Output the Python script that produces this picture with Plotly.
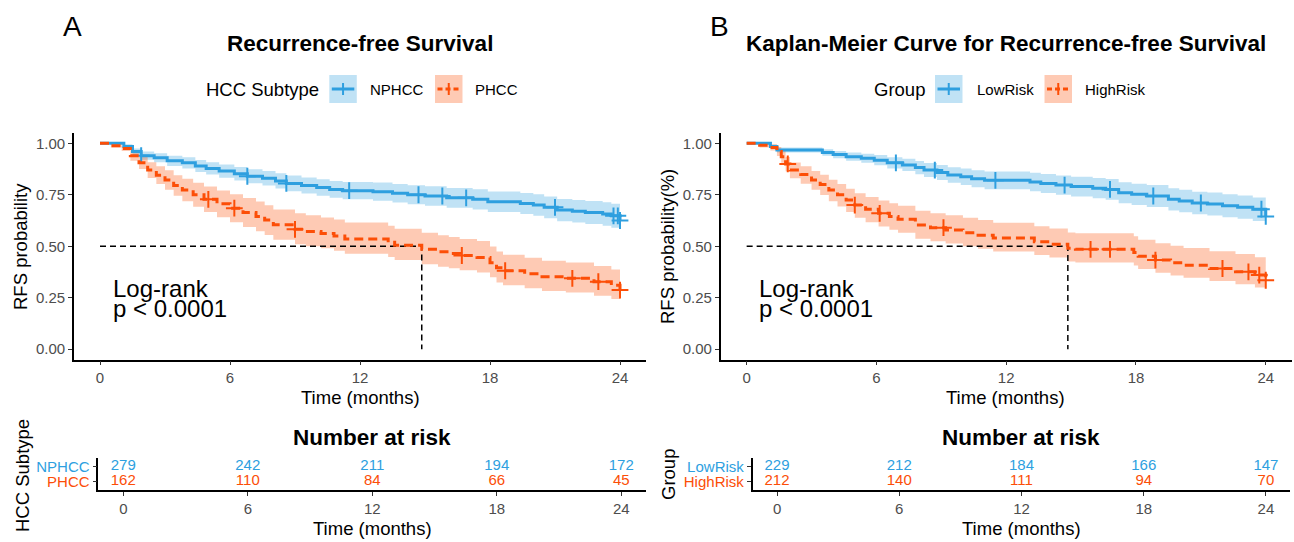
import plotly.graph_objects as go

W, H = 1294, 542
BLUE = "#2E9FDF"
ORANGE = "#FC4E07"
BLUE_FILL = "rgba(46,159,223,0.3)"
ORANGE_FILL = "rgba(252,78,7,0.3)"
FONT = "Liberation Sans, Arial, sans-serif"

# ---------------- Panel A data ----------------
a_blue_t = [0, 1.1, 1.5, 1.9, 2.5, 3.1, 3.8, 4.4, 4.9, 5.5, 6.2, 6.8, 7.5, 8.1, 8.6, 9.3, 10.0, 10.6, 11.2,
            12.6, 13.5, 14.2, 15.0, 16.0, 17.2, 17.9, 19.4, 20.0, 20.5, 21.1, 21.8, 22.4, 23.2, 23.6, 24.0]
a_blue_s = [1.0, 0.985, 0.96, 0.94, 0.93, 0.915, 0.905, 0.89, 0.878, 0.865, 0.852, 0.84, 0.83, 0.817, 0.805,
            0.795, 0.785, 0.776, 0.77, 0.765, 0.757, 0.75, 0.744, 0.735, 0.728, 0.716, 0.708, 0.70, 0.689,
            0.676, 0.67, 0.664, 0.657, 0.648, 0.625]
a_blue_lo = [1.0, 0.975, 0.945, 0.92, 0.908, 0.89, 0.878, 0.861, 0.848, 0.833, 0.819, 0.806, 0.795, 0.78,
             0.767, 0.756, 0.745, 0.735, 0.728, 0.721, 0.712, 0.704, 0.697, 0.687, 0.679, 0.666, 0.657, 0.648,
             0.636, 0.622, 0.615, 0.608, 0.600, 0.590, 0.570]
a_blue_up = [1.0, 0.995, 0.975, 0.96, 0.952, 0.94, 0.932, 0.919, 0.908, 0.897, 0.885, 0.874, 0.865, 0.854,
             0.843, 0.834, 0.825, 0.817, 0.812, 0.809, 0.802, 0.796, 0.791, 0.783, 0.777, 0.766, 0.759, 0.752,
             0.742, 0.730, 0.725, 0.72, 0.714, 0.706, 0.683]
a_blue_cens = [1.9, 6.8, 8.6, 11.5, 14.7, 15.8, 16.9, 21.0, 23.7, 23.9, 24.0]

a_orng_t = [0, 0.5, 1.0, 1.4, 1.8, 2.2, 2.6, 3.0, 3.4, 3.8, 4.3, 4.8, 5.4, 6.0, 6.6, 7.2, 7.6, 8.0, 9.0, 9.5,
            10.2, 10.8, 11.3, 13.3, 13.6, 14.85, 15.6, 16.1, 16.6, 17.4, 18.0, 18.3, 18.6, 19.6, 20.4, 21.5,
            22.8, 23.6, 24.0]
a_orng_s = [1.0, 0.988, 0.975, 0.94, 0.905, 0.87, 0.845, 0.822, 0.795, 0.773, 0.75, 0.728, 0.706, 0.685,
            0.664, 0.645, 0.627, 0.605, 0.582, 0.572, 0.562, 0.55, 0.535, 0.52, 0.505, 0.485, 0.473, 0.465,
            0.455, 0.445, 0.42, 0.395, 0.381, 0.366, 0.352, 0.344, 0.328, 0.311, 0.287]
a_orng_lo = [1.0, 0.98, 0.962, 0.915, 0.875, 0.832, 0.802, 0.775, 0.745, 0.718, 0.692, 0.666, 0.641, 0.617,
             0.594, 0.573, 0.555, 0.532, 0.51, 0.50, 0.49, 0.478, 0.463, 0.448, 0.433, 0.413, 0.401, 0.393,
             0.383, 0.373, 0.349, 0.324, 0.311, 0.296, 0.283, 0.275, 0.26, 0.244, 0.22]
a_orng_up = [1.0, 0.996, 0.988, 0.965, 0.935, 0.908, 0.888, 0.869, 0.845, 0.828, 0.808, 0.79, 0.771, 0.753,
             0.734, 0.717, 0.699, 0.678, 0.66, 0.65, 0.64, 0.63, 0.615, 0.60, 0.585, 0.565, 0.553, 0.545,
             0.535, 0.525, 0.499, 0.474, 0.459, 0.444, 0.429, 0.421, 0.404, 0.387, 0.36]
a_orng_cens = [5.0, 6.2, 9.0, 16.7, 18.7, 21.8, 23.0, 24.0]
a_median = 14.85

a_groups = ["NPHCC", "PHCC"]
risk_times = [0, 6, 12, 18, 24]
a_risk_blue = [279, 242, 211, 194, 172]
a_risk_orng = [162, 110, 84, 66, 45]

# ---------------- Panel B data ----------------
b_blue_t = [0, 1.1, 1.4, 3.5, 4.0, 4.6, 5.3, 5.9, 6.5, 7.2, 7.8, 8.2, 8.8, 9.3, 9.9, 10.4, 11.0, 13.1, 13.6,
            14.3, 15.0, 16.0, 16.6, 17.2, 17.8, 18.5, 19.5, 20.0, 20.6, 21.3, 22.0, 22.7, 23.4, 24.0]
b_blue_s = [1.0, 0.985, 0.967, 0.955, 0.945, 0.935, 0.927, 0.918, 0.905, 0.895, 0.882, 0.87, 0.858, 0.846,
            0.838, 0.828, 0.82, 0.812, 0.805, 0.797, 0.79, 0.782, 0.776, 0.76, 0.752, 0.744, 0.728, 0.72,
            0.71, 0.705, 0.697, 0.69, 0.68, 0.645]
b_blue_lo = [1.0, 0.977, 0.955, 0.939, 0.927, 0.915, 0.905, 0.893, 0.878, 0.865, 0.85, 0.836, 0.822, 0.808,
             0.798, 0.787, 0.777, 0.767, 0.759, 0.75, 0.742, 0.733, 0.726, 0.709, 0.70, 0.691, 0.674, 0.665,
             0.655, 0.649, 0.641, 0.633, 0.623, 0.587]
b_blue_up = [1.0, 0.993, 0.979, 0.971, 0.963, 0.955, 0.949, 0.943, 0.932, 0.925, 0.914, 0.904, 0.894, 0.884,
             0.878, 0.869, 0.863, 0.857, 0.851, 0.844, 0.838, 0.831, 0.826, 0.811, 0.804, 0.797, 0.782, 0.775,
             0.765, 0.761, 0.753, 0.747, 0.737, 0.703]
b_blue_cens = [6.9, 8.7, 11.5, 14.7, 16.8, 18.8, 21.0, 23.8, 24.0]

b_orng_t = [0, 0.6, 1.1, 1.4, 1.6, 1.8, 2.0, 2.5, 3.0, 3.4, 3.8, 4.2, 4.6, 5.0, 5.5, 6.1, 6.6, 7.0, 7.8, 8.5,
            9.2, 10.0, 10.7, 11.4, 13.3, 14.0, 14.85, 15.2, 17.9, 18.1, 18.9, 19.6, 20.2, 21.4, 22.6, 23.5, 24.0]
b_orng_s = [1.0, 0.99, 0.98, 0.96, 0.935, 0.9, 0.87, 0.848, 0.822, 0.8, 0.773, 0.75, 0.725, 0.7, 0.68, 0.66,
            0.645, 0.631, 0.603, 0.59, 0.579, 0.566, 0.554, 0.54, 0.522, 0.51, 0.49, 0.485, 0.47, 0.452,
            0.433, 0.42, 0.408, 0.392, 0.376, 0.36, 0.335]
b_orng_lo = [1.0, 0.98, 0.965, 0.938, 0.905, 0.864, 0.83, 0.804, 0.774, 0.749, 0.719, 0.693, 0.666, 0.639,
             0.617, 0.596, 0.58, 0.565, 0.537, 0.524, 0.513, 0.50, 0.488, 0.474, 0.457, 0.445, 0.426, 0.421,
             0.406, 0.389, 0.371, 0.358, 0.347, 0.331, 0.316, 0.30, 0.277]
b_orng_up = [1.0, 1.0, 0.995, 0.982, 0.962, 0.933, 0.907, 0.889, 0.866, 0.847, 0.823, 0.802, 0.779, 0.757,
             0.739, 0.722, 0.709, 0.697, 0.672, 0.66, 0.65, 0.638, 0.627, 0.614, 0.597, 0.586, 0.567, 0.563,
             0.548, 0.531, 0.514, 0.502, 0.491, 0.476, 0.462, 0.447, 0.423]
b_orng_cens = [1.9, 5.0, 6.15, 9.1, 15.9, 16.8, 18.9, 22.0, 23.2, 23.7, 24.0]
b_median = 14.85

b_groups = ["LowRisk", "HighRisk"]
b_risk_blue = [229, 212, 184, 166, 147]
b_risk_orng = [212, 140, 111, 94, 70]

y_ticks = [0, 0.25, 0.5, 0.75, 1.0]
y_ticklabels = ["0.00", "0.25", "0.50", "0.75", "1.00"]


def px(x):
    return x / W


def py(y):
    return 1 - y / H


def step_at(ts, ss, t):
    v = ss[0]
    for ti, si in zip(ts, ss):
        if ti <= t + 1e-9:
            v = si
        else:
            break
    return v


fig = go.Figure()


def add_curve(xa, ya, t, s, lo, up, cens, color, fill, dash):
    fig.add_trace(go.Scatter(x=t, y=lo, mode="lines", line=dict(width=0, shape="hv", color=fill),
                             xaxis=xa, yaxis=ya, hoverinfo="skip", showlegend=False))
    fig.add_trace(go.Scatter(x=t, y=up, mode="lines", line=dict(width=0, shape="hv", color=fill),
                             fill="tonexty", fillcolor=fill,
                             xaxis=xa, yaxis=ya, hoverinfo="skip", showlegend=False))


def add_line(xa, ya, t, s, cens, color, dash):
    fig.add_trace(go.Scatter(x=t, y=s, mode="lines",
                             line=dict(width=3, shape="hv", color=color, dash=dash),
                             xaxis=xa, yaxis=ya, hoverinfo="skip", showlegend=False))
    fig.add_trace(go.Scatter(x=cens, y=[step_at(t, s, c) for c in cens], mode="markers",
                             marker=dict(symbol="cross-thin", size=12, line=dict(color=color, width=2)),
                             xaxis=xa, yaxis=ya, hoverinfo="skip", showlegend=False))


def add_median(xa, ya, med):
    fig.add_trace(go.Scatter(x=[0, med, med], y=[0.5, 0.5, 0], mode="lines",
                             line=dict(color="black", width=1.5, dash="6px,4px"),
                             xaxis=xa, yaxis=ya, hoverinfo="skip", showlegend=False))


def add_risk(xa, ya, blue_vals, orng_vals):
    fig.add_trace(go.Scatter(x=risk_times, y=[2] * len(risk_times), mode="text",
                             text=[str(v) for v in blue_vals],
                             textfont=dict(color=BLUE, size=15, family=FONT),
                             xaxis=xa, yaxis=ya, hoverinfo="skip", showlegend=False))
    fig.add_trace(go.Scatter(x=risk_times, y=[1] * len(risk_times), mode="text",
                             text=[str(v) for v in orng_vals],
                             textfont=dict(color=ORANGE, size=15, family=FONT),
                             xaxis=xa, yaxis=ya, hoverinfo="skip", showlegend=False))


# Panel A
add_curve("x", "y", a_blue_t, a_blue_s, a_blue_lo, a_blue_up, a_blue_cens, BLUE, BLUE_FILL, "solid")
add_curve("x", "y", a_orng_t, a_orng_s, a_orng_lo, a_orng_up, a_orng_cens, ORANGE, ORANGE_FILL, "9px,5px")
add_median("x", "y", a_median)
add_line("x", "y", a_blue_t, a_blue_s, a_blue_cens, BLUE, "solid")
add_line("x", "y", a_orng_t, a_orng_s, a_orng_cens, ORANGE, "9px,5px")
add_risk("x2", "y2", a_risk_blue, a_risk_orng)

# Panel B
add_curve("x3", "y3", b_blue_t, b_blue_s, b_blue_lo, b_blue_up, b_blue_cens, BLUE, BLUE_FILL, "solid")
add_curve("x3", "y3", b_orng_t, b_orng_s, b_orng_lo, b_orng_up, b_orng_cens, ORANGE, ORANGE_FILL, "9px,5px")
add_median("x3", "y3", b_median)
add_line("x3", "y3", b_blue_t, b_blue_s, b_blue_cens, BLUE, "solid")
add_line("x3", "y3", b_orng_t, b_orng_s, b_orng_cens, ORANGE, "9px,5px")
add_risk("x4", "y4", b_risk_blue, b_risk_orng)

axis_common = dict(showline=True, linecolor="black", linewidth=1.6, ticks="outside", ticklen=4,
                   tickcolor="#333333", tickwidth=1.2, showgrid=False, zeroline=False,
                   tickfont=dict(size=15, color="#4D4D4D", family=FONT), fixedrange=True)

main_ydom = [py(359.5), py(133)]
risk_ydom = [py(490), py(458)]


def xaxis(domain, anchor):
    return dict(axis_common, domain=domain, range=[-1.2, 25.2], tickvals=risk_times, anchor=anchor)


def risk_ticktext(groups):
    return ["<span style='color:%s'>%s</span>" % (ORANGE, groups[1]),
            "<span style='color:%s'>%s</span>" % (BLUE, groups[0])]


fig.update_layout(
    width=W, height=H, margin=dict(l=0, r=0, t=0, b=0),
    paper_bgcolor="white", plot_bgcolor="white", showlegend=False,
    font=dict(family=FONT, color="black"),
    xaxis=xaxis([px(74), px(646)], "y"),
    yaxis=dict(axis_common, domain=main_ydom, range=[-0.05, 1.05], tickvals=y_ticks,
               ticktext=y_ticklabels, anchor="x"),
    xaxis2=xaxis([px(98.4), px(646.2)], "y2"),
    yaxis2=dict(axis_common, domain=risk_ydom, range=[0.45, 2.55], tickvals=[1, 2],
                ticktext=risk_ticktext(a_groups), anchor="x2",
                tickfont=dict(size=15, family=FONT)),
    xaxis3=xaxis([px(720.7), px(1291.7)], "y3"),
    yaxis3=dict(axis_common, domain=main_ydom, range=[-0.05, 1.05], tickvals=y_ticks,
                ticktext=y_ticklabels, anchor="x3"),
    xaxis4=xaxis([px(752.6), px(1290.4)], "y4"),
    yaxis4=dict(axis_common, domain=risk_ydom, range=[0.45, 2.55], tickvals=[1, 2],
                ticktext=risk_ticktext(b_groups), anchor="x4",
                tickfont=dict(size=15, family=FONT)),
)

annotations = []


def ann(text, x, y, size, bold=False, xanchor="center", angle=0, color="black"):
    if bold:
        text = "<b>%s</b>" % text
    annotations.append(dict(text=text, x=px(x), y=py(y), xref="paper", yref="paper",
                            xanchor=xanchor, yanchor="middle", showarrow=False, textangle=angle,
                            font=dict(size=size, color=color, family=FONT)))


# panel letters and titles
ann("A", 72, 26, 28)
ann("B", 719, 26, 28)
ann("Recurrence-free Survival", 360, 43, 22.5, bold=True)
ann("Kaplan-Meier Curve for Recurrence-free Survival", 1006, 43, 22.5, bold=True)

# axis titles
ann("Time (months)", 360, 397, 18.5)
ann("Time (months)", 1006, 397, 18.5)
ann("RFS probability", 21, 247, 18.5, angle=-90)
ann("RFS probability(%)", 668, 247, 18.5, angle=-90)
ann("Log-rank", 111, 288.5, 24, xanchor="left")
ann("p < 0.0001", 111, 308.5, 24, xanchor="left")
ann("Log-rank", 757, 288.5, 24, xanchor="left")
ann("p < 0.0001", 757, 308.5, 24, xanchor="left")

# risk tables
ann("Number at risk", 372, 437, 22.5, bold=True)
ann("Number at risk", 1021, 437, 22.5, bold=True)
ann("Time (months)", 372, 528, 18.5)
ann("Time (months)", 1021, 528, 18.5)
ann("HCC Subtype", 22, 476, 18.5, angle=-90)
ann("Group", 668, 475, 18.5, angle=-90)

# legends
shapes = []


def legend_key(x0, yc, color, fill, dash):
    shapes.append(dict(type="rect", xref="paper", yref="paper", x0=px(x0), x1=px(x0 + 27.5),
                       y0=py(yc + 14), y1=py(yc - 14), fillcolor=fill, line=dict(width=0)))
    shapes.append(dict(type="line", xref="paper", yref="paper", x0=px(x0 + 2.5), x1=px(x0 + 25),
                       y0=py(yc), y1=py(yc), line=dict(color=color, width=3, dash=dash)))
    shapes.append(dict(type="line", xref="paper", yref="paper", x0=px(x0 + 13.75), x1=px(x0 + 13.75),
                       y0=py(yc - 6), y1=py(yc + 6), line=dict(color=color, width=2)))


ann("HCC Subtype", 203.5, 89, 18.5, xanchor="left")
legend_key(329.3, 89, BLUE, BLUE_FILL, "solid")
ann(a_groups[0], 368.3, 89, 15, xanchor="left")
legend_key(435, 89, ORANGE, ORANGE_FILL, "5px,3px")
ann(a_groups[1], 473.3, 89, 15, xanchor="left")

ann("Group", 872, 89, 18.5, xanchor="left")
legend_key(935, 89, BLUE, BLUE_FILL, "solid")
ann(b_groups[0], 974.5, 89, 15, xanchor="left")
legend_key(1044.5, 89, ORANGE, ORANGE_FILL, "5px,3px")
ann(b_groups[1], 1082.5, 89, 15, xanchor="left")

fig.update_layout(annotations=annotations, shapes=shapes)
fig.write_html("out.html")
